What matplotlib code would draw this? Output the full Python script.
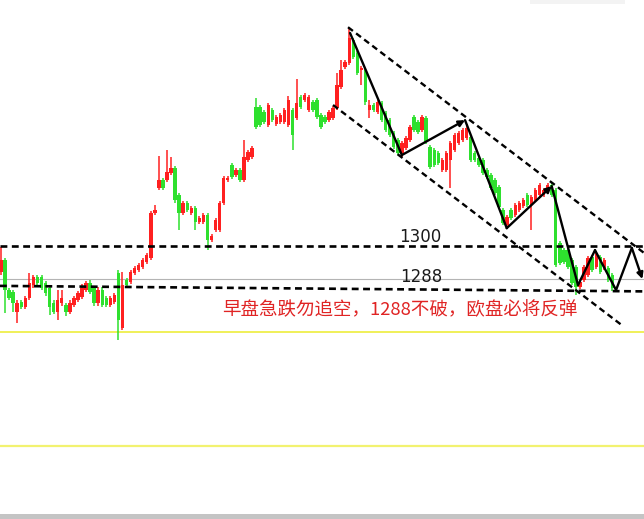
import matplotlib
matplotlib.use("Agg")
import matplotlib.pyplot as plt
from matplotlib.patches import Rectangle
import numpy as np

# candle prices (open, high, low, close)
opens = [1290.5, 1294.9, 1284.0, 1283.3, 1276.0, 1279.6, 1277.8, 1281.1, 1285.8, 1288.7,
         1288.7, 1286.5, 1284.7, 1279.3, 1276.0, 1279.3, 1278.5, 1276.0, 1278.5, 1280.4,
         1281.5, 1284.0, 1286.5, 1284.7, 1279.3, 1284.0, 1281.1, 1278.5, 1279.6, 1290.2,
         1270.2, 1287.6, 1286.9, 1290.2, 1291.3, 1292.4, 1294.2, 1295.6, 1312.0, 1321.1,
         1324.0, 1324.0, 1326.5, 1328.4, 1318.5, 1312.0, 1315.6, 1312.0, 1313.8, 1308.7,
         1308.7, 1311.3, 1302.2, 1305.8, 1305.8, 1315.6, 1324.0, 1329.5, 1325.8, 1327.6,
         1324.0, 1331.3, 1332.4, 1350.5, 1350.5, 1348.7, 1344.0, 1349.5, 1344.4, 1345.1,
         1345.1, 1344.0, 1349.5, 1346.5, 1354.2, 1353.1, 1349.5, 1352.4, 1353.1, 1347.6,
         1346.9, 1345.8, 1346.5, 1350.2, 1357.8, 1365.1, 1366.5, 1374.9, 1370.2, 1364.0,
         1364.0, 1349.5, 1351.3, 1348.7, 1352.0, 1348.4, 1345.8, 1341.1, 1338.5, 1333.8,
         1335.6, 1338.5, 1346.9, 1345.1, 1342.2, 1346.5, 1336.0, 1334.9, 1333.8, 1327.6,
         1327.6, 1331.3, 1334.9, 1337.5, 1338.5, 1339.3, 1339.6, 1333.8, 1332.0, 1331.3,
         1327.6, 1325.8, 1324.0, 1321.5, 1313.1, 1307.6, 1313.1, 1311.3, 1313.1, 1314.5,
         1318.5, 1314.9, 1316.7, 1318.5, 1318.5, 1320.4, 1322.2, 1320.4, 1301.1, 1298.5,
         1298.5, 1294.9, 1292.4, 1285.1, 1287.6, 1289.5, 1296.0, 1292.4, 1296.0, 1292.0,
         1292.0, 1289.5]
highs = [1299.6, 1295.6, 1284.7, 1284.0, 1280.4, 1280.4, 1281.8, 1290.2, 1289.5, 1289.5,
         1289.5, 1287.3, 1285.5, 1280.4, 1284.0, 1284.0, 1279.3, 1280.4, 1281.8, 1283.6,
         1286.2, 1287.3, 1287.6, 1285.5, 1285.1, 1285.1, 1281.8, 1281.8, 1282.9, 1291.3,
         1290.5, 1288.4, 1291.3, 1292.7, 1293.8, 1295.6, 1297.5, 1312.7, 1314.9, 1332.7,
         1324.7, 1334.9, 1332.4, 1329.1, 1319.3, 1316.4, 1316.4, 1314.5, 1314.5, 1310.9,
         1312.0, 1312.0, 1304.4, 1310.2, 1316.4, 1325.5, 1325.5, 1330.2, 1328.4, 1328.4,
         1338.5, 1334.9, 1336.4, 1353.8, 1351.3, 1349.5, 1352.0, 1350.2, 1347.6, 1348.4,
         1350.2, 1354.5, 1350.2, 1360.7, 1354.9, 1355.6, 1354.9, 1353.1, 1353.8, 1348.4,
         1347.6, 1349.5, 1350.9, 1362.9, 1367.6, 1367.6, 1379.3, 1375.6, 1370.9, 1365.5,
         1364.7, 1353.1, 1352.0, 1353.1, 1352.7, 1349.1, 1346.5, 1341.8, 1339.3, 1338.2,
         1340.0, 1344.0, 1347.6, 1345.8, 1347.6, 1347.3, 1336.7, 1335.6, 1334.5, 1332.0,
         1334.5, 1338.2, 1341.1, 1341.8, 1342.9, 1344.4, 1340.4, 1334.5, 1332.7, 1332.0,
         1328.4, 1326.5, 1324.7, 1322.2, 1313.8, 1311.3, 1313.8, 1315.6, 1316.4, 1317.5,
         1319.3, 1318.5, 1321.1, 1322.9, 1321.1, 1322.9, 1322.9, 1321.1, 1301.8, 1299.3,
         1299.3, 1295.6, 1293.1, 1287.6, 1293.1, 1296.4, 1296.7, 1298.2, 1296.7, 1295.6,
         1292.7, 1290.2]
lows = [1289.5, 1275.6, 1280.4, 1276.0, 1272.0, 1277.0, 1277.1, 1280.4, 1284.7, 1285.8,
        1284.0, 1281.8, 1274.9, 1275.3, 1273.1, 1278.2, 1274.5, 1275.3, 1277.8, 1279.6,
        1280.7, 1283.3, 1282.5, 1278.2, 1278.2, 1277.8, 1277.8, 1277.8, 1278.9, 1265.8,
        1269.5, 1285.1, 1286.2, 1289.5, 1290.5, 1291.6, 1293.5, 1294.9, 1311.3, 1320.4,
        1320.4, 1323.3, 1325.8, 1315.6, 1305.8, 1311.3, 1312.4, 1311.3, 1305.8, 1308.0,
        1308.0, 1298.5, 1301.5, 1305.1, 1305.1, 1314.9, 1323.3, 1324.4, 1325.1, 1323.3,
        1323.3, 1330.5, 1331.6, 1342.5, 1343.3, 1344.4, 1343.3, 1345.1, 1343.6, 1344.4,
        1344.4, 1343.3, 1334.9, 1345.8, 1349.8, 1352.4, 1348.7, 1348.7, 1346.2, 1342.5,
        1344.4, 1345.1, 1345.8, 1349.5, 1357.1, 1364.4, 1365.8, 1368.0, 1362.2, 1358.5,
        1351.3, 1346.5, 1348.7, 1348.0, 1345.1, 1341.5, 1339.6, 1335.3, 1333.1, 1332.4,
        1334.9, 1337.8, 1341.5, 1340.7, 1341.5, 1337.1, 1328.0, 1328.7, 1329.5, 1326.9,
        1326.9, 1321.1, 1334.2, 1336.7, 1337.8, 1338.5, 1330.5, 1330.5, 1328.7, 1325.8,
        1324.4, 1320.4, 1318.5, 1313.4, 1307.6, 1306.9, 1309.5, 1310.5, 1312.4, 1313.8,
        1314.2, 1305.8, 1316.0, 1317.8, 1317.8, 1319.6, 1317.8, 1292.4, 1293.1, 1293.5,
        1291.6, 1285.8, 1282.2, 1284.4, 1286.9, 1288.7, 1290.5, 1291.6, 1289.8, 1291.3,
        1286.9, 1283.6]
closes = [1294.9, 1284.0, 1281.1, 1279.3, 1279.3, 1277.8, 1281.1, 1286.5, 1288.7, 1286.5,
          1284.7, 1282.9, 1277.8, 1276.0, 1280.4, 1281.1, 1276.0, 1279.3, 1281.1, 1282.9,
          1284.7, 1286.5, 1283.3, 1279.3, 1284.0, 1278.5, 1278.5, 1281.1, 1282.2, 1273.1,
          1285.8, 1285.8, 1290.5, 1292.0, 1293.1, 1294.9, 1296.7, 1312.0, 1313.1, 1324.0,
          1321.1, 1326.9, 1328.4, 1316.7, 1312.0, 1315.6, 1313.1, 1313.8, 1308.7, 1310.2,
          1311.3, 1302.2, 1303.6, 1309.5, 1315.6, 1324.7, 1324.7, 1325.1, 1327.6, 1324.0,
          1332.4, 1334.2, 1335.6, 1343.3, 1344.0, 1345.1, 1351.3, 1345.8, 1346.9, 1347.6,
          1349.5, 1353.1, 1340.4, 1352.0, 1350.5, 1354.9, 1354.2, 1349.5, 1346.9, 1343.3,
          1345.1, 1348.7, 1350.2, 1358.5, 1364.0, 1366.9, 1375.6, 1368.7, 1362.9, 1364.7,
          1352.4, 1351.3, 1349.5, 1352.4, 1345.8, 1342.2, 1340.4, 1336.0, 1333.8, 1337.5,
          1339.3, 1343.3, 1342.2, 1341.5, 1346.9, 1337.8, 1328.7, 1329.5, 1330.2, 1331.3,
          1333.8, 1337.5, 1340.4, 1341.1, 1342.2, 1342.9, 1331.3, 1331.3, 1329.5, 1326.5,
          1325.1, 1321.1, 1319.3, 1314.2, 1308.4, 1310.5, 1310.2, 1314.9, 1315.6, 1316.7,
          1314.9, 1317.8, 1320.4, 1322.2, 1320.4, 1322.2, 1318.5, 1293.1, 1293.8, 1294.2,
          1292.4, 1286.5, 1285.1, 1286.9, 1292.4, 1295.6, 1291.3, 1297.5, 1290.5, 1294.9,
          1287.6, 1284.7]

# levels
level_1300 = 1300
level_1288 = 1288
support_x = [-0.25, 158.8]
support_y = [1285.5, 1283.5]
yellow_levels = [1268.7, 1227.2]

# channel lines (bar index, price)
upper_x = [85.7, 158.8]
upper_y = [1379.6, 1297.5]
lower_x = [82.0, 153.6]
lower_y = [1351.3, 1270.9]

# wave path
wave_x = [86.2, 99.0, 114.6, 124.9, 136.0, 142.5, 146.7, 151.9, 155.8, 158.4]
wave_y = [1377.5, 1333.1, 1345.8, 1306.5, 1321.8, 1285.8, 1298.5, 1284.0, 1299.3, 1288.0]
arrow_ends = [2, 4, 9]

note = "早盘急跌勿追空，1288不破，欧盘必将反弹"

UP = "#ff2020"
DOWN = "#2ee02e"
DASH = (0, (2.6, 1.7))

fig = plt.figure(figsize=(6.44, 5.19), dpi=100)
ax = fig.add_axes([0, 0, 1, 1])
ax.set_xlim(-0.25, 158.8)
ax.set_ylim(1200.7, 1389.5)
ax.axis("off")

idx = np.arange(len(opens))
o = np.array(opens)
c = np.array(closes)
colors = [UP if cc >= oo else DOWN for oo, cc in zip(o, c)]
ax.vlines(idx, lows, highs, colors=colors, linewidth=1.1, zorder=2)
heights = np.maximum(np.abs(c - o), 0.5)
ax.bar(idx, heights, bottom=np.minimum(o, c), width=0.85, color=colors,
       linewidth=0, zorder=3)

# horizontal levels
ax.axhline(level_1288, color="#b4b4b4", lw=0.8, zorder=1)
ax.axhline(level_1300, color="black", lw=1.9, ls=DASH, zorder=4)
ax.plot(support_x, support_y, color="black", lw=1.9, ls=DASH, zorder=4)
ax.axhline(yellow_levels[0], color="#eeee3c", lw=1.2, zorder=1)
ax.axhline(yellow_levels[1], color="#f2f270", lw=1.6, zorder=1)

# channel
ax.plot(upper_x, upper_y, color="black", lw=1.7, ls=DASH, zorder=4)
ax.plot(lower_x, lower_y, color="black", lw=1.7, ls=DASH, zorder=4)

# wave with arrows
for i in range(len(wave_x) - 1):
    if i + 1 in arrow_ends:
        ax.annotate("", xy=(wave_x[i + 1], wave_y[i + 1]), xytext=(wave_x[i], wave_y[i]),
                    arrowprops=dict(arrowstyle="-|>", color="black", lw=1.7,
                                    mutation_scale=9, shrinkA=0, shrinkB=0), zorder=5)
    else:
        ax.plot(wave_x[i:i + 2], wave_y[i:i + 2], color="black", lw=1.7, zorder=5,
                solid_capstyle="round")

ax.text(98.3, 1299.9, "1300", fontsize=12, color="#1a1a1a", va="bottom", ha="left",
        family="DejaVu Sans")
ax.text(98.5, 1285.6, "1288", fontsize=12, color="#1a1a1a", va="bottom", ha="left",
        family="DejaVu Sans")
ax.text(54.6, 1276.7, note, fontsize=13.3, color="#e02424", va="center", ha="left",
        family=["Noto Sans CJK SC", "DejaVu Sans"])

# window edges from the screenshot
fig.add_artist(Rectangle((0, 0), 1, 5 / 519, transform=fig.transFigure,
                         color="#c4c4c4", lw=0))
fig.add_artist(Rectangle((530 / 644, 1 - 4 / 519), 95 / 644, 4 / 519,
                         transform=fig.transFigure, color="#f3f3f3", lw=0))

fig.savefig("out.png", dpi=100)
